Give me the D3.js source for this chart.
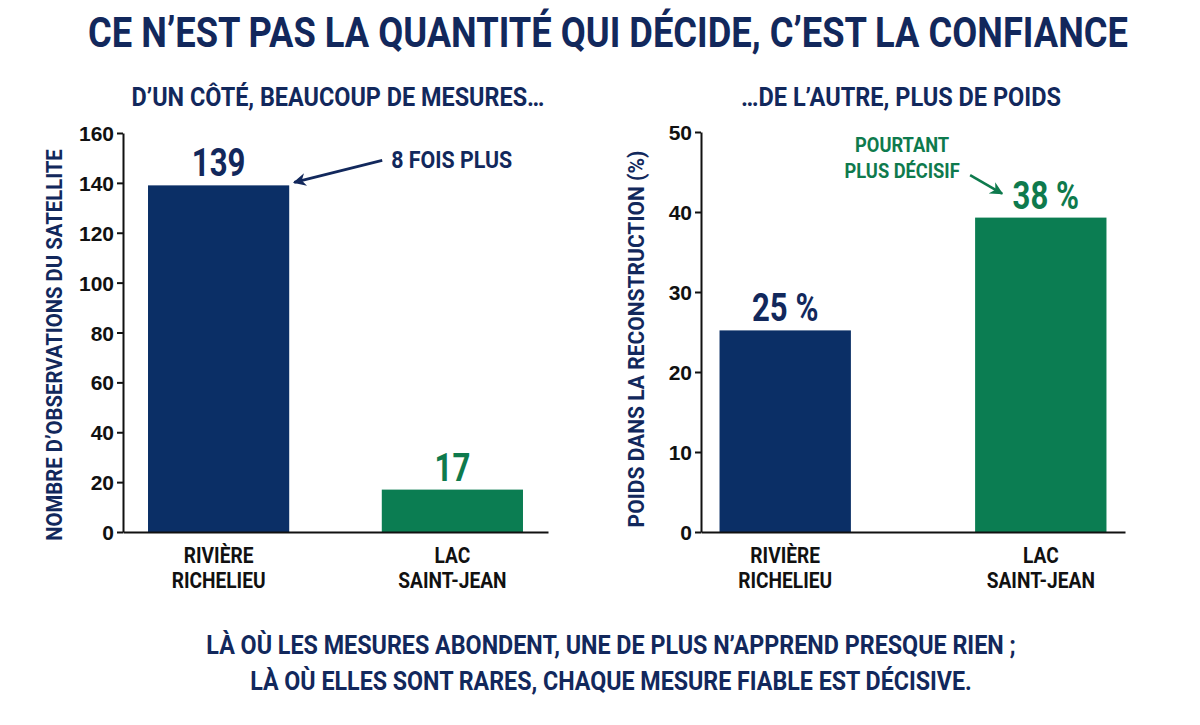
<!DOCTYPE html>
<html><head><meta charset="utf-8">
<script src="https://cdn.jsdelivr.net/npm/d3@7/dist/d3.min.js"></script>
<style>
html,body{margin:0;padding:0;background:#fff;}
svg{display:block;}
text{font-family:Roboto,"DejaVu Sans Condensed",sans-serif;font-weight:700;}
</style></head>
<body><svg id="c" width="1200" height="725"></svg>
<script>
// ---- data ----
const categories = ["Rivière Richelieu", "Lac Saint-Jean"];
const categoryLines = [["RIVIÈRE", "RICHELIEU"], ["LAC", "SAINT-JEAN"]];
const observations = [139, 17];
const observationLabels = ["139", "17"];
const weights = [25.2, 39.3];
const weightLabels = ["25 %", "38 %"];
const obsTicks = [0, 20, 40, 60, 80, 100, 120, 140, 160];
const weightTicks = [0, 10, 20, 30, 40, 50];
const title = "CE N’EST PAS LA QUANTITÉ QUI DÉCIDE, C’EST LA CONFIANCE";
const subtitles = ["D’UN CÔTÉ, BEAUCOUP DE MESURES…", "…DE L’AUTRE, PLUS DE POIDS"];
const yTitles = ["NOMBRE D’OBSERVATIONS DU SATELLITE", "POIDS DANS LA RECONSTRUCTION (%)"];
const annotations = ["8 FOIS PLUS", ["POURTANT", "PLUS DÉCISIF"]];
const caption = ["LÀ OÙ LES MESURES ABONDENT, UNE DE PLUS N’APPREND PRESQUE RIEN ;",
                 "LÀ OÙ ELLES SONT RARES, CHAQUE MESURE FIABLE EST DÉCISIVE."];

const NAVY = "#0b2f66", GREEN = "#0b7d52", NAVYTXT = "#12285c", GREENTXT = "#0e7a4d";
const barColors = [NAVY, GREEN], labelColors = [NAVYTXT, GREENTXT];

const svg = d3.select("#c");
const defs = svg.append("defs");
function marker(id, color){
  defs.append("marker").attr("id", id).attr("viewBox", "0 0 10 10")
    .attr("refX", 9).attr("refY", 5).attr("markerWidth", 5).attr("markerHeight", 5)
    .attr("markerUnits", "strokeWidth").attr("orient", "auto")
    .append("path").attr("d", "M0,0 L10,5 L0,10 L3,5 Z").attr("fill", color);
}
marker("mNavy", NAVYTXT); marker("mGreen", GREENTXT);

// condensed text: o = {x, y, text, size, color, anchor, width (target) | factor, rotate}
function ctext(o){
  const g = svg.append("g");
  const t = g.append("text").attr("x", 0).attr("y", 0)
    .attr("text-anchor", o.anchor || "middle").attr("font-size", o.size)
    .attr("fill", o.color).text(o.text);
  const w = t.node().getComputedTextLength();
  const k = o.width ? o.width / w : (o.factor || 1);
  g.attr("transform", `translate(${o.x},${o.y})` + (o.rotate ? ` rotate(${o.rotate})` : "") + ` scale(${k},1)`);
  return g;
}

// title
ctext({x: 608, y: 47, text: title, size: 42, color: NAVYTXT, width: 1040});

// panels
const panels = [
  {x0: 123, x1: 548, y0: 532, y1: 133, max: 160, ticks: obsTicks, vals: observations, labels: observationLabels,
   pi: 0.396, po: 0.107, sub: subtitles[0], subX: 338, subW: 413, yt: yTitles[0], ytX: 62, ytY: 345, ytW: 392},
  {x0: 701, x1: 1125, y0: 532, y1: 132, max: 50, ticks: weightTicks, vals: weights, labels: weightLabels,
   pi: 0.486, po: 0.0725, sub: subtitles[1], subX: 901, subW: 320, yt: yTitles[1], ytX: 644, ytY: 339, ytW: 377}
];

panels.forEach((p, pi) => {
  const x = d3.scaleBand().domain(categories).range([p.x0, p.x1]).paddingInner(p.pi).paddingOuter(p.po);
  const y = d3.scaleLinear().domain([0, p.max]).range([p.y0, p.y1]);
  p.x = x; p.y = y;
  const g = svg.append("g");

  ctext({x: p.subX, y: 106, text: p.sub, size: 26, color: NAVYTXT, width: p.subW});
  ctext({x: p.ytX, y: p.ytY, text: p.yt, size: 22, color: NAVYTXT, width: p.ytW, rotate: -90});

  // bars
  g.selectAll("rect").data(p.vals).join("rect")
    .attr("x", (d, i) => x(categories[i])).attr("width", x.bandwidth())
    .attr("y", d => y(d)).attr("height", d => y(0) - y(d))
    .attr("fill", (d, i) => barColors[i]);

  // y axis
  const ya = g.append("g").attr("transform", `translate(${p.x0},0)`)
    .call(d3.axisLeft(y).tickValues(p.ticks).tickSize(6).tickSizeOuter(0).tickPadding(3));
  ya.select(".domain").attr("stroke", "#111").attr("stroke-width", 2);
  ya.selectAll(".tick line").attr("stroke", "#111").attr("stroke-width", 2);
  ya.selectAll(".tick text").attr("font-size", 21).attr("fill", "#111").attr("dy", "0.36em")
    .style("font-family", '"Liberation Sans",Arial,sans-serif').style("font-weight", 700);

  // x axis baseline
  const xa = g.append("g").attr("transform", `translate(0,${p.y0})`)
    .call(d3.axisBottom(x).tickSize(0).tickSizeOuter(0).tickFormat(""));
  xa.select(".domain").attr("stroke", "#111").attr("stroke-width", 2);

  // category labels
  categories.forEach((c, i) => {
    categoryLines[i].forEach((ln, j) => {
      ctext({x: x(c) + x.bandwidth() / 2, y: p.y0 + 31 + j * 25, text: ln, size: 22, color: "#111", factor: 0.87});
    });
  });

  // value labels
  p.vals.forEach((v, i) => {
    ctext({x: x(categories[i]) + x.bandwidth() / 2 + (pi === 1 && i === 1 ? 5 : 0), y: y(v) - 9,
           text: p.labels[i], size: 38, color: labelColors[i], factor: 0.82});
  });
});

// annotation left: "8 FOIS PLUS"
{
  const p = panels[0], x = p.x, y = p.y;
  const bx = x(categories[0]) + x.bandwidth();
  const tx = bx + 102, ty = y(139) - 17;
  ctext({x: tx, y: ty, text: annotations[0], size: 24, color: NAVYTXT, width: 121, anchor: "start"});
  svg.append("line").attr("x1", tx - 9).attr("y1", ty - 8).attr("x2", bx + 5).attr("y2", y(139) - 3)
    .attr("stroke", NAVYTXT).attr("stroke-width", 2.6).attr("marker-end", "url(#mNavy)");
}
// annotation right
{
  const p = panels[1], x = p.x, y = p.y;
  const cx = x(categories[1]);
  const tcx = cx - 73;
  annotations[1].forEach((ln, j) => {
    ctext({x: tcx, y: y(47.5) + j * 26, text: ln, size: 21, color: GREENTXT, factor: 0.87});
  });
  svg.append("line").attr("x1", tcx + 68).attr("y1", y(44.6)).attr("x2", cx + 27).attr("y2", y(42.3))
    .attr("stroke", GREENTXT).attr("stroke-width", 2.6).attr("marker-end", "url(#mGreen)");
}

// caption
caption.forEach((ln, i) => {
  ctext({x: 611, y: 654 + i * 36, text: ln, size: 25, color: NAVYTXT, width: i === 0 ? 810 : 722});
});
</script></body></html>
